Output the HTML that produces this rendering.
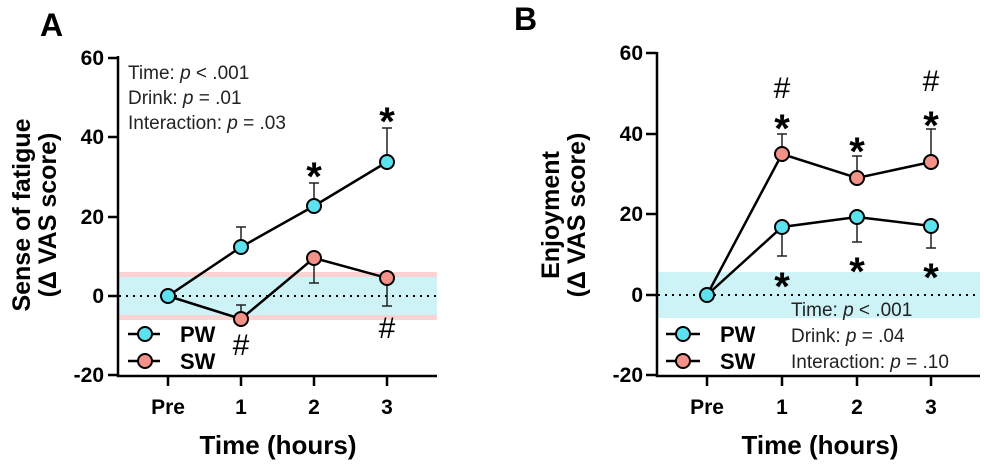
<!DOCTYPE html>
<html><head><meta charset="utf-8"><style>
body{margin:0;background:#fff;}
svg{display:block;font-family:"Liberation Sans",Arial,sans-serif;}
.t{font-size:21px;font-weight:bold;}
.s{font-size:19px;fill:#222;}
.m{font-size:40px;font-weight:bold;}
.h{font-size:30px;}
</style></head><body>
<svg width="984" height="464" viewBox="0 0 984 464">
<!-- Panel A -->
<text x="40" y="36" font-size="32" font-weight="bold">A</text>
<rect x="119" y="272" width="318" height="48" fill="#fbd3d3"/>
<rect x="119" y="277" width="318" height="38" fill="#cdf3f7"/>
<line x1="119" y1="296" x2="437" y2="296" stroke="#000" stroke-width="2" stroke-dasharray="2,5"/>
<g stroke="#000" stroke-width="2.5" fill="none">
<path d="M118 56 V376 H437"/>
<path d="M108 58H118M108 137H118M108 217H118M108 296H118M108 375H118"/>
<path d="M168 375V386M241 375V386M314 375V386M387 375V386"/>
</g>
<g class="t" text-anchor="end"><text x="104" y="65">60</text><text x="104" y="144">40</text><text x="104" y="224">20</text><text x="104" y="303">0</text><text x="104" y="382">-20</text></g>
<g class="t" text-anchor="middle"><text x="168" y="414">Pre</text><text x="241" y="414">1</text><text x="314" y="414">2</text><text x="387" y="414">3</text></g>
<text x="278" y="454" class="t" text-anchor="middle" style="font-size:26px">Time (hours)</text>
<g class="t" style="font-size:25px" text-anchor="middle">
<text transform="translate(30,215) rotate(-90)">Sense of fatigue</text>
<text transform="translate(56,215) rotate(-90)">(Δ VAS score)</text></g>
<g class="s"><text x="128" y="79">Time: <tspan font-style="italic">p</tspan> &lt; .001</text>
<text x="128" y="104">Drink: <tspan font-style="italic">p</tspan> = .01</text>
<text x="128" y="129">Interaction: <tspan font-style="italic">p</tspan> = .03</text></g>
<g stroke="#222" stroke-width="1.5">
<path d="M241 247V227M236 227H246M314 206V183M309 183H319M387 162V128M382 128H392"/>
<path d="M241 319V305M236 305H246M314 258V283M309 283H319M387 278V306M382 306H392"/>
</g>
<g stroke="#000" stroke-width="2.5" fill="none">
<polyline points="168,296 241,247 314,206 387,162"/>
<polyline points="168,296 241,319 314,258 387,278"/>
</g>
<g stroke="#000" stroke-width="2"><circle cx="241" cy="247" r="7" fill="#5ce1ee"/><circle cx="314" cy="206" r="7" fill="#5ce1ee"/><circle cx="387" cy="162" r="7" fill="#5ce1ee"/>
<circle cx="241" cy="319" r="7" fill="#f4928a"/><circle cx="314" cy="258" r="7" fill="#f4928a"/><circle cx="387" cy="278" r="7" fill="#f4928a"/>
<circle cx="168" cy="296" r="7" fill="#5ce1ee"/></g>
<g class="m" text-anchor="middle"><text x="314" y="190">*</text><text x="387" y="135">*</text></g>
<g class="h" text-anchor="middle"><text x="241" y="355">#</text><text x="387" y="338">#</text></g>
<g stroke="#000" stroke-width="2.5"><path d="M128 334H160M128 361H160"/></g>
<g stroke="#000" stroke-width="2"><circle cx="145" cy="334" r="7" fill="#5ce1ee"/><circle cx="145" cy="361" r="7" fill="#f4928a"/></g>
<g class="t" style="font-size:22px"><text x="180" y="342">PW</text><text x="180" y="369">SW</text></g>

<!-- Panel B -->
<text x="514" y="30" font-size="32" font-weight="bold">B</text>
<rect x="658" y="272" width="322" height="46" fill="#cdf3f7"/>
<line x1="658" y1="295" x2="980" y2="295" stroke="#000" stroke-width="2" stroke-dasharray="2,5"/>
<g stroke="#000" stroke-width="2.5" fill="none">
<path d="M657 52 V376 H980"/>
<path d="M646 53H657M646 134H657M646 214H657M646 295H657M646 375H657"/>
<path d="M707 375V386M782 375V386M857 375V386M931 375V386"/>
</g>
<g class="t" text-anchor="end"><text x="643" y="60">60</text><text x="643" y="141">40</text><text x="643" y="221">20</text><text x="643" y="302">0</text><text x="643" y="382">-20</text></g>
<g class="t" text-anchor="middle"><text x="707" y="414">Pre</text><text x="782" y="414">1</text><text x="857" y="414">2</text><text x="931" y="414">3</text></g>
<text x="820" y="454" class="t" text-anchor="middle" style="font-size:26px">Time (hours)</text>
<g class="t" style="font-size:25px" text-anchor="middle">
<text transform="translate(559,215) rotate(-90)">Enjoyment</text>
<text transform="translate(585,215) rotate(-90)">(Δ VAS score)</text></g>
<g class="s"><text x="791" y="316">Time: <tspan font-style="italic">p</tspan> &lt; .001</text>
<text x="791" y="342">Drink: <tspan font-style="italic">p</tspan> = .04</text>
<text x="791" y="368">Interaction: <tspan font-style="italic">p</tspan> = .10</text></g>
<g stroke="#222" stroke-width="1.5">
<path d="M782 154V134M777 134H787M857 178V156M852 156H862M931 162V129M926 129H936"/>
<path d="M782 227V256M777 256H787M857 217V242M852 242H862M931 226V248M926 248H936"/>
</g>
<g stroke="#000" stroke-width="2.5" fill="none">
<polyline points="707,295 782,154 857,178 931,162"/>
<polyline points="707,295 782,227 857,217 931,226"/>
</g>
<g stroke="#000" stroke-width="2"><circle cx="782" cy="154" r="7" fill="#f4928a"/><circle cx="857" cy="178" r="7" fill="#f4928a"/><circle cx="931" cy="162" r="7" fill="#f4928a"/>
<circle cx="782" cy="227" r="7" fill="#5ce1ee"/><circle cx="857" cy="217" r="7" fill="#5ce1ee"/><circle cx="931" cy="226" r="7" fill="#5ce1ee"/>
<circle cx="707" cy="295" r="7" fill="#5ce1ee"/></g>
<g class="m" text-anchor="middle"><text x="782" y="142">*</text><text x="857" y="165">*</text><text x="931" y="139">*</text>
<text x="782" y="300">*</text><text x="857" y="285">*</text><text x="931" y="291">*</text></g>
<g class="h" text-anchor="middle"><text x="782" y="98">#</text><text x="931" y="91">#</text></g>
<g stroke="#000" stroke-width="2.5"><path d="M666 334H700M666 361H700"/></g>
<g stroke="#000" stroke-width="2"><circle cx="683" cy="334" r="7" fill="#5ce1ee"/><circle cx="683" cy="361" r="7" fill="#f4928a"/></g>
<g class="t" style="font-size:22px"><text x="720" y="342">PW</text><text x="720" y="369">SW</text></g>
</svg>
</body></html>
